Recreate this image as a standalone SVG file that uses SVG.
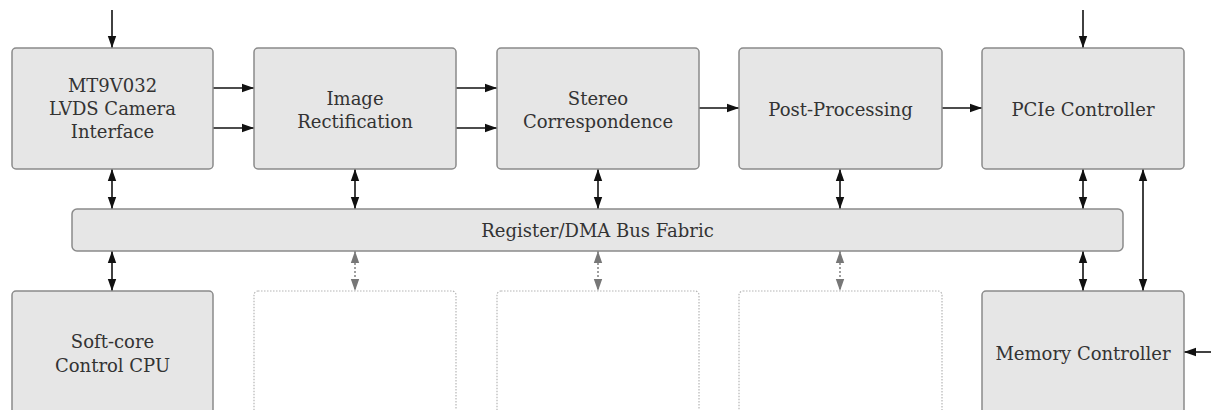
<svg xmlns="http://www.w3.org/2000/svg" width="1211" height="410" viewBox="0 0 1211 410">
<defs>
<style>
.box{fill:#e6e6e6;stroke:#8a8a8a;stroke-width:1.5}
.ghost{fill:#ffffff;stroke:#b5b5b5;stroke-width:1.2;stroke-dasharray:1.5 1.5}
.t{font-family:"DejaVu Serif","Liberation Serif",serif;font-size:18px;fill:#333;text-anchor:middle}
.c{stroke:#111;stroke-width:1.6;fill:none}
.g{stroke:#888;stroke-width:1.6;fill:none;stroke-dasharray:2 2}
</style>
<marker id="ah" viewBox="0 0 12 10" refX="12" refY="5" markerWidth="12" markerHeight="10" markerUnits="userSpaceOnUse" orient="auto-start-reverse"><path d="M0,0.8 L12,5 L0,9.2 Z" fill="#111"/></marker>
<marker id="ahg" viewBox="0 0 12 10" refX="12" refY="5" markerWidth="12" markerHeight="10" markerUnits="userSpaceOnUse" orient="auto-start-reverse"><path d="M0,0.8 L12,5 L0,9.2 Z" fill="#777"/></marker>
</defs>
<rect width="1211" height="410" fill="#ffffff"/>
<g id="connectors">
<line class="c" x1="112" y1="10" x2="112" y2="48" marker-end="url(#ah)"/>
<line class="c" x1="1083" y1="10" x2="1083" y2="48" marker-end="url(#ah)"/>
<line class="c" x1="213" y1="88" x2="254" y2="88" marker-end="url(#ah)"/>
<line class="c" x1="213" y1="128" x2="254" y2="128" marker-end="url(#ah)"/>
<line class="c" x1="456" y1="88" x2="497" y2="88" marker-end="url(#ah)"/>
<line class="c" x1="456" y1="128" x2="497" y2="128" marker-end="url(#ah)"/>
<line class="c" x1="699" y1="108" x2="739" y2="108" marker-end="url(#ah)"/>
<line class="c" x1="942" y1="108" x2="982" y2="108" marker-end="url(#ah)"/>
<line class="c" x1="112" y1="169" x2="112" y2="209" marker-start="url(#ah)" marker-end="url(#ah)"/>
<line class="c" x1="355" y1="169" x2="355" y2="209" marker-start="url(#ah)" marker-end="url(#ah)"/>
<line class="c" x1="598" y1="169" x2="598" y2="209" marker-start="url(#ah)" marker-end="url(#ah)"/>
<line class="c" x1="840" y1="169" x2="840" y2="209" marker-start="url(#ah)" marker-end="url(#ah)"/>
<line class="c" x1="1083" y1="169" x2="1083" y2="209" marker-start="url(#ah)" marker-end="url(#ah)"/>
<line class="c" x1="112" y1="251" x2="112" y2="291" marker-start="url(#ah)" marker-end="url(#ah)"/>
<line class="g" x1="355" y1="251" x2="355" y2="291" marker-start="url(#ahg)" marker-end="url(#ahg)"/>
<line class="g" x1="598" y1="251" x2="598" y2="291" marker-start="url(#ahg)" marker-end="url(#ahg)"/>
<line class="g" x1="840" y1="251" x2="840" y2="291" marker-start="url(#ahg)" marker-end="url(#ahg)"/>
<line class="c" x1="1083" y1="251" x2="1083" y2="291" marker-start="url(#ah)" marker-end="url(#ah)"/>
<line class="c" x1="1143" y1="169" x2="1143" y2="291" marker-start="url(#ah)" marker-end="url(#ah)"/>
<line class="c" x1="1211" y1="352" x2="1184" y2="352" marker-end="url(#ah)"/>
</g>
<g id="camera"><rect class="box" x="12" y="48" width="201" height="121" rx="4"/>
<text class="t" x="112.5" y="92">MT9V032</text><text class="t" x="112.5" y="115">LVDS Camera</text><text class="t" x="112.5" y="138">Interface</text></g>
<g id="rectification"><rect class="box" x="254" y="48" width="202" height="121" rx="4"/>
<text class="t" x="355" y="105">Image</text><text class="t" x="355" y="128">Rectification</text></g>
<g id="stereo"><rect class="box" x="497" y="48" width="202" height="121" rx="4"/>
<text class="t" x="598" y="105">Stereo</text><text class="t" x="598" y="128">Correspondence</text></g>
<g id="postproc"><rect class="box" x="739" y="48" width="203" height="121" rx="4"/>
<text class="t" x="840.5" y="116">Post-Processing</text></g>
<g id="pcie"><rect class="box" x="982" y="48" width="202" height="121" rx="4"/>
<text class="t" x="1083" y="116">PCIe Controller</text></g>
<g id="bus"><rect class="box" x="72" y="209" width="1051" height="42" rx="5"/>
<text class="t" x="597.5" y="237">Register/DMA Bus Fabric</text></g>
<g id="cpu"><rect class="box" x="12" y="291" width="201" height="140" rx="4"/>
<text class="t" x="112.5" y="348">Soft-core</text><text class="t" x="112.5" y="372">Control CPU</text></g>
<g id="slot1"><rect class="ghost" x="254" y="291" width="202" height="140" rx="4"/></g>
<g id="slot2"><rect class="ghost" x="497" y="291" width="202" height="140" rx="4"/></g>
<g id="slot3"><rect class="ghost" x="739" y="291" width="203" height="140" rx="4"/></g>
<g id="memory"><rect class="box" x="982" y="291" width="202" height="140" rx="4"/>
<text class="t" x="1083" y="360">Memory Controller</text></g>
</svg>
